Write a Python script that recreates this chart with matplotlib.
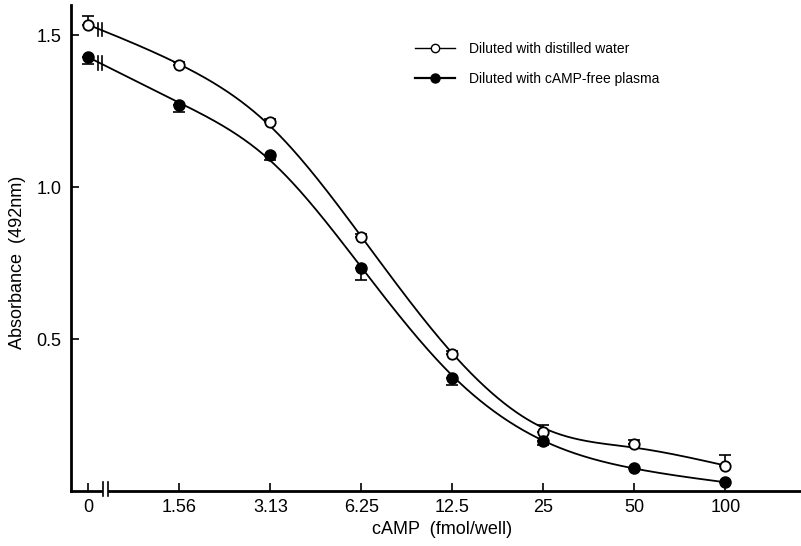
import numpy as np
import matplotlib
matplotlib.use("Agg")
import matplotlib.pyplot as plt
from matplotlib.lines import Line2D

# ---- data ----
x_labels = ["0", "1.56", "3.13", "6.25", "12.5", "25", "50", "100"]
water = [1.533, 1.401, 1.214, 0.836, 0.451, 0.194, 0.155, 0.082]
water_err_up = [0.03, 0.01, 0.012, 0.01, 0.01, 0.023, 0.013, 0.036]
plasma = [1.428, 1.270, 1.105, 0.734, 0.372, 0.164, 0.076, 0.030]
plasma_err_dn = [0.023, 0.023, 0.016, 0.040, 0.023, 0.013, 0.0, 0.0]
legend_labels = ["Diluted with distilled water", "Diluted with cAMP-free plasma"]

plt.rcParams['font.family'] = ['Liberation Sans', 'DejaVu Sans']

W, H = 801, 546
fig = plt.figure(figsize=(W / 100, H / 100), dpi=100)
ax_l, ax_r, ax_t, ax_b = 71, 800, 5, 491
ax = fig.add_axes([ax_l / W, 1 - ax_b / H, (ax_r - ax_l) / W, (ax_b - ax_t) / H])

xpos = np.arange(len(x_labels))

step = 0.01
xs = np.arange(0, len(x_labels) - 1 + step / 2, step)


def smooth_curve(y, lam=0.035):
    """Penalised (smoothing-spline-like) curve through the measured points."""
    n = len(xs)
    Wd = np.zeros(n); yy = np.zeros(n)
    idx = np.rint(xpos / step).astype(int)
    Wd[idx] = 1.0; yy[idx] = y
    D = np.diff(np.eye(n), 2, axis=0)
    A = np.diag(Wd) + (lam * step) * (D.T @ D) / step**4
    return np.linalg.solve(A, Wd * yy)


cw = smooth_curve(water)
cp = smooth_curve(plasma)

lw = 1.3
ax.plot(xs, cw, color='black', lw=lw, zorder=2)
ax.plot(xs, cp, color='black', lw=lw, zorder=2)

ax.errorbar(xpos, water, yerr=[np.zeros(len(water)), water_err_up], fmt='none',
            ecolor='black', elinewidth=1.2, capsize=4, capthick=1.2, zorder=3)
ax.errorbar(xpos, plasma, yerr=[plasma_err_dn, np.zeros(len(plasma))], fmt='none',
            ecolor='black', elinewidth=1.2, capsize=4, capthick=1.2, zorder=3)
ax.plot(xpos, water, 'o', ms=7.5, mfc='white', mec='black', mew=1.3, zorder=4)
ax.plot(xpos, plasma, 'o', ms=8, mfc='black', mec='black', zorder=4)

# break marks on curves
bx = 0.13
for c in (cw, cp):
    yb = np.interp(bx, xs, c)
    for dx in (-0.02, 0.02):
        ax.plot([bx + dx, bx + dx], [yb - 0.022, yb + 0.022], color='black', lw=1.2, zorder=3)

ax.set_xlim(-0.19, 7.82)
ax.set_ylim(0, 1.6)
ax.set_xticks(xpos)
ax.set_xticklabels(x_labels)
ax.set_yticks([0.5, 1.0, 1.5])
ax.set_yticklabels(["0.5", "1.0", "1.5"])
ax.tick_params(direction='in', length=6, width=1.2, labelsize=13)
ax.tick_params(axis='x', pad=6)
ax.tick_params(axis='y', pad=7)
for s in ('top', 'right'):
    ax.spines[s].set_visible(False)
for s in ('left', 'bottom'):
    ax.spines[s].set_linewidth(2.0)

# axis break on x-axis
xb = 0.19
ax.plot([xb - 0.025, xb + 0.025], [0, 0], color='white', lw=3, zorder=5, clip_on=False,
        solid_capstyle='butt')
for dx in (-0.025, 0.025):
    ax.plot([xb + dx, xb + dx], [-0.018, 0.03], color='black', lw=1.2, zorder=6, clip_on=False)

ax.set_xlabel("cAMP  (fmol/well)", fontsize=13)
ax.set_ylabel("Absorbance  (492nm)", fontsize=13)
ax.xaxis.set_label_coords((442 - ax_l) / (ax_r - ax_l), -(530 - ax_b) / (ax_b - ax_t), transform=ax.transAxes)
ax.xaxis.label.set_va('center')
ax.yaxis.set_label_coords(-(ax_l - 18) / (ax_r - ax_l), (ax_b - 262) / (ax_b - ax_t), transform=ax.transAxes)
ax.yaxis.label.set_va('center')

handles = [Line2D([], [], color='black', lw=1.0, marker='o', ms=6, mfc='white', mec='black'),
           Line2D([], [], color='black', lw=1.6, marker='o', ms=6.5, mfc='black', mec='black')]
fig.legend(handles, legend_labels, loc='upper left', bbox_to_anchor=(415 / W, 1 - 42 / H),
           bbox_transform=fig.transFigure, frameon=False, fontsize=10, handlelength=2.9,
           handletextpad=1.0, labelspacing=1.15, borderpad=0, borderaxespad=0)

fig.savefig("out.png", dpi=100)
